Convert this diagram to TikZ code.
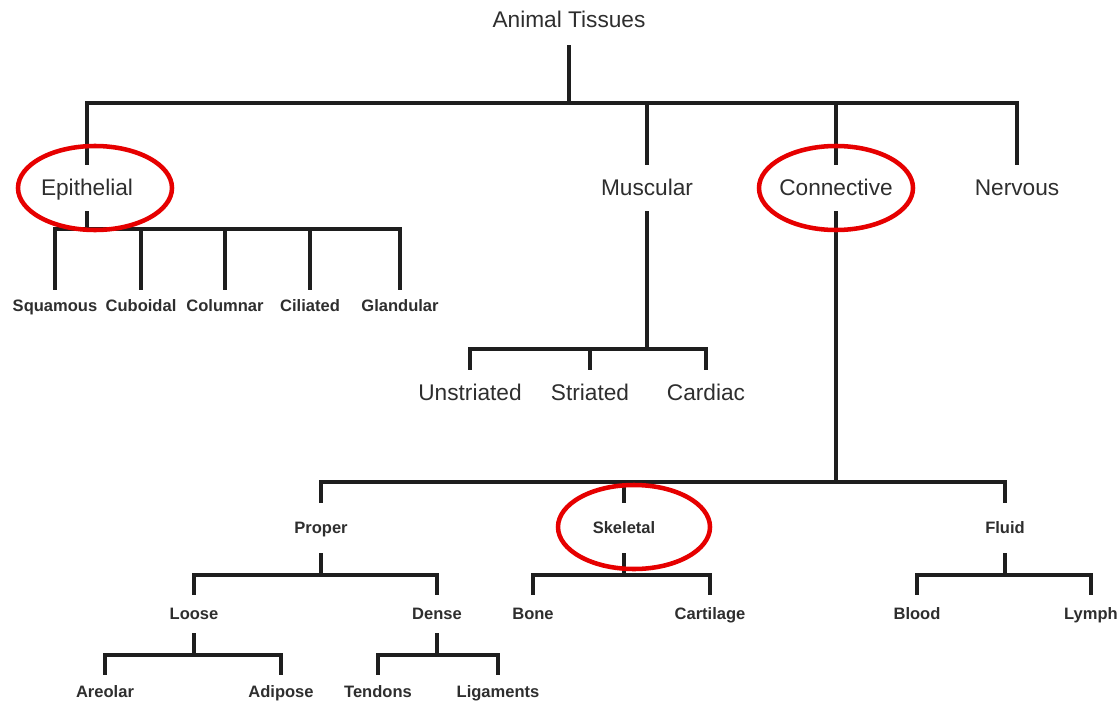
\documentclass[tikz,border=0pt]{standalone}
\usepackage{fontspec}
\setmainfont{Liberation Sans}
\definecolor{txt}{HTML}{2E2E2E}
\definecolor{ln}{HTML}{1E1E1E}
\definecolor{ring}{HTML}{E60000}
\begin{document}
\begin{tikzpicture}[x=0.75pt,y=-0.75pt,
  big/.style={inner sep=0pt, text=txt, text height=1.18em, text depth=0pt, font=\fontsize{17}{19}\selectfont},
  small/.style={inner sep=0pt, text=txt, text height=0.8em, text depth=0pt, font=\bfseries\fontsize{12.4}{14}\selectfont},
  tline/.style={draw=ln, line width=2.3pt},
  ringline/.style={draw=ring, line width=3.4pt}]
\useasboundingbox (0,0) rectangle (1120,703);

% level 0
\node[big, minimum height=37.5pt] (root) at (569,20) {Animal Tissues};
% level 1
\node[big, minimum height=34.5pt] (epi)  at (87,188)   {Epithelial};
\node[big, minimum height=34.5pt] (musc) at (647,188)  {Muscular};
\node[big, minimum height=34.5pt] (conn) at (836,188)  {Connective};
\node[big, minimum height=34.5pt] (nerv) at (1017,188) {Nervous};
% epithelial types
\node[small, minimum height=24pt] (squ) at (55,306)  {Squamous};
\node[small, minimum height=24pt] (cub) at (141,306) {Cuboidal};
\node[small, minimum height=24pt] (col) at (225,306) {Columnar};
\node[small, minimum height=24pt] (cil) at (310,306) {Ciliated};
\node[small, minimum height=24pt] (gla) at (400,306) {Glandular};
% muscular types
\node[big, minimum height=34.5pt] (uns) at (470,393) {Unstriated};
\node[big, minimum height=34.5pt] (str) at (590,393) {Striated};
\node[big, minimum height=34.5pt] (car) at (706,393) {Cardiac};
% connective types
\node[small, minimum height=37.5pt] (pro) at (321,528)  {Proper};
\node[small, minimum height=37.5pt] (ske) at (624,528)  {Skeletal};
\node[small, minimum height=37.5pt] (flu) at (1005,528) {Fluid};
% level 4
\node[small, minimum height=28.5pt] (loo) at (194,614)  {Loose};
\node[small, minimum height=28.5pt] (den) at (437,614)  {Dense};
\node[small, minimum height=28.5pt] (bon) at (533,614)  {Bone};
\node[small, minimum height=28.5pt] (cart) at (710,614) {Cartilage};
\node[small, minimum height=28.5pt] (blo) at (917,614)  {Blood};
\node[small, minimum height=28.5pt] (lym) at (1091,614) {Lymph};
% leaves
\node[small, minimum height=25.5pt] (are) at (105,692) {Areolar};
\node[small, minimum height=25.5pt] (adi) at (281,692) {Adipose};
\node[small, minimum height=25.5pt] (ten) at (378,692) {Tendons};
\node[small, minimum height=25.5pt] (lig) at (498,692) {Ligaments};

% bar heights
\coordinate (y0) at (0,103);
\coordinate (y1) at (0,229);
\coordinate (y2) at (0,349);
\coordinate (y3) at (0,482);
\coordinate (y4) at (0,575);
\coordinate (y5) at (0,655);

% root
\draw[tline] (root.south) -- (root.south |- y0);
\draw[tline] (epi.north) |- (nerv.north |- y0) -- (nerv.north);
\draw[tline] (musc.north) -- (musc.north |- y0);
\draw[tline] (conn.north) -- (conn.north |- y0);
% epithelial
\draw[tline] (epi.south) -- (epi.south |- y1);
\draw[tline] (squ.north) |- (gla.north |- y1) -- (gla.north);
\draw[tline] (cub.north) -- (cub.north |- y1);
\draw[tline] (col.north) -- (col.north |- y1);
\draw[tline] (cil.north) -- (cil.north |- y1);
% muscular
\draw[tline] (musc.south) -- (musc.south |- y2);
\draw[tline] (uns.north) |- (car.north |- y2) -- (car.north);
\draw[tline] (str.north) -- (str.north |- y2);
% connective
\draw[tline] (conn.south) -- (conn.south |- y3);
\draw[tline] (pro.north) |- (flu.north |- y3) -- (flu.north);
\draw[tline] (ske.north) -- (ske.north |- y3);
% proper
\draw[tline] (pro.south) -- (pro.south |- y4);
\draw[tline] (loo.north) |- (den.north |- y4) -- (den.north);
% skeletal
\draw[tline] (ske.south) -- (ske.south |- y4);
\draw[tline] (bon.north) |- (cart.north |- y4) -- (cart.north);
% fluid
\draw[tline] (flu.south) -- (flu.south |- y4);
\draw[tline] (blo.north) |- (lym.north |- y4) -- (lym.north);
% loose
\draw[tline] (loo.south) -- (loo.south |- y5);
\draw[tline] (are.north) |- (adi.north |- y5) -- (adi.north);
% dense
\draw[tline] (den.south) -- (den.south |- y5);
\draw[tline] (ten.north) |- (lig.north |- y5) -- (lig.north);

% red highlight rings
\draw[ringline] (95,188) ellipse [x radius=57.75pt, y radius=31.5pt];
\draw[ringline] (836,188) ellipse [x radius=57.75pt, y radius=31.5pt];
\draw[ringline] (634,527) ellipse [x radius=57pt, y radius=31.5pt];
\end{tikzpicture}
\end{document}
